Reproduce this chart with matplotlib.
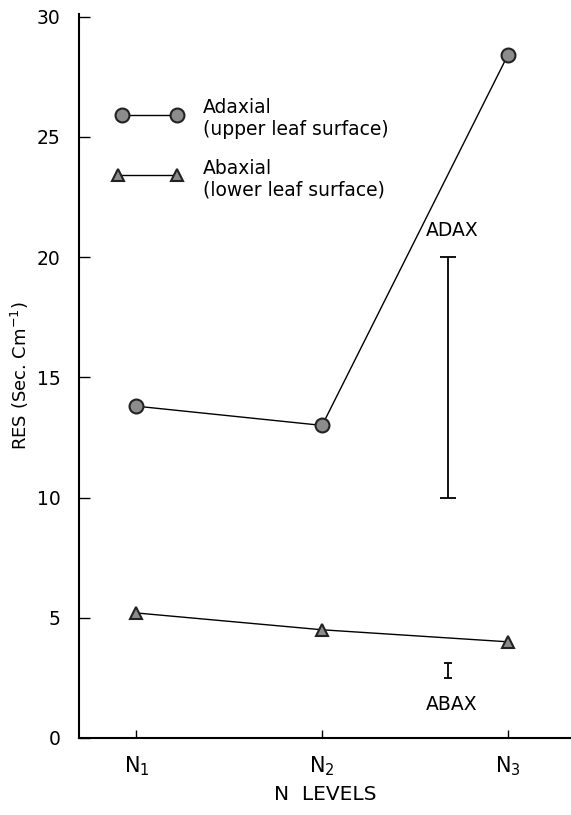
import numpy as np
import matplotlib.pyplot as plt

# данные
levels = [1, 2, 3]
level_labels = ['N$_1$', 'N$_2$', 'N$_3$']
adaxial = [13.8, 13.0, 28.4]
abaxial = [5.2, 4.5, 4.0]

# интервалы (ADAX, ABAX)
adax_bar = [10.0, 20.0]
abax_bar = [2.5, 3.1]

plt.rcParams['font.family'] = ['DejaVu Sans']

fig = plt.figure(figsize=(5.71, 8.15), dpi=100)
ax = fig.add_axes([0.138, 0.0945, 0.862, 0.888])

circ = dict(marker='o', markersize=10, markerfacecolor='#8c8c8c',
            markeredgecolor='#222222', markeredgewidth=1.5, color='black', lw=1)
tri = dict(marker='^', markersize=9, markerfacecolor='#8c8c8c',
           markeredgecolor='#222222', markeredgewidth=1.5, color='black', lw=1)

ax.plot(levels, adaxial, **circ)
ax.plot(levels, abaxial, **tri)

# легенда вручную
ax.plot([0.92, 1.22], [25.9, 25.9], **circ)
ax.plot([0.90, 1.22], [23.4, 23.4], **tri)
ax.text(1.36, 26.6, 'Adaxial\n(upper leaf surface)', fontsize=13.5,
        va='top', ha='left', linespacing=1.2)
ax.text(1.36, 24.1, 'Abaxial\n(lower leaf surface)', fontsize=13.5,
        va='top', ha='left', linespacing=1.2)

# интервалы
xb = 2.68
ax.errorbar([xb], [np.mean(adax_bar)], yerr=[(adax_bar[1] - adax_bar[0]) / 2],
            fmt='none', ecolor='black', elinewidth=1.3, capsize=6, capthick=1.3)
ax.errorbar([xb], [np.mean(abax_bar)], yerr=[(abax_bar[1] - abax_bar[0]) / 2],
            fmt='none', ecolor='black', elinewidth=1.3, capsize=3, capthick=1.3)
ax.text(xb + 0.02, 20.7, 'ADAX', fontsize=13.5, ha='center', va='bottom')
ax.text(xb + 0.02, 1.4, 'ABAX', fontsize=13.5, ha='center', va='center')

ax.set_xlim(0.69, 3.34)
ax.set_ylim(0, 30.1)
ax.set_yticks([0, 5, 10, 15, 20, 25, 30])
ax.set_xticks(levels)
ax.set_xticklabels(level_labels, fontsize=15)
ax.tick_params(axis='y', direction='in', length=8, width=1, labelsize=13.5, pad=13)
ax.tick_params(axis='x', direction='in', length=6, width=1, pad=12)

for s in ['top', 'right']:
    ax.spines[s].set_visible(False)
ax.spines['left'].set_linewidth(1.5)
ax.spines['bottom'].set_linewidth(1.5)

ax.set_ylabel('RES (Sec. Cm$^{-1}$)', fontsize=13, labelpad=4)
ax.set_xlabel('N  LEVELS', fontsize=14.5, labelpad=5)

fig.savefig('out.png', dpi=100)
